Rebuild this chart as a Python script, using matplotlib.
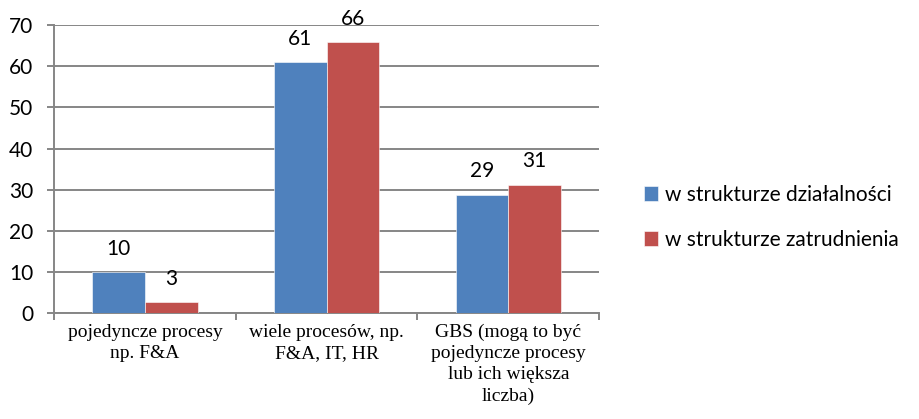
import matplotlib
matplotlib.use("Agg")
import matplotlib.pyplot as plt
import numpy as np

# Data
categories = [
    "pojedyncze procesy\nnp. F&A",
    "wiele procesów, np.\nF&A, IT, HR",
    "GBS (mogą to być\npojedyncze procesy\nlub ich większa\nliczba)",
]
series_names = ["w strukturze działalności", "w strukturze zatrudnienia"]
dzialalnosc = [9.9, 61.0, 28.8]
zatrudnienie = [2.6, 65.8, 31.1]
y_ticks = [0, 10, 20, 30, 40, 50, 60, 70]

colors = ["#4F81BD", "#C0504D"]
grid_color = "#868686"
sans = "Lato"
serif = "Liberation Serif"

fig = plt.figure(figsize=(9.19, 4.19), dpi=100)
ax = fig.add_axes([0.0588, 0.253, 0.5932, 0.687])

x = np.arange(len(categories))
width = 0.29
values = [dzialalnosc, zatrudnienie]
for i, (vals, name) in enumerate(zip(values, series_names)):
    pos = x + (i - 0.5) * width
    bars = ax.bar(pos, vals, width, color=colors[i], label=name, zorder=3,
                  edgecolor="white", linewidth=0.4)
    for b, v in zip(bars, vals):
        ax.annotate(f"{v:.0f}", (b.get_x() + b.get_width() / 2, v),
                    xytext=(0, 17), textcoords="offset points",
                    ha="center", va="center", fontsize=15, family=sans)

ax.set_xlim(-0.5, len(categories) - 0.5)
ax.set_ylim(0, 70)
ax.set_yticks(y_ticks)
ax.set_yticklabels([str(t) for t in y_ticks], fontsize=15, family=sans)
ax.yaxis.grid(True, color=grid_color, linewidth=1.4, zorder=0)
ax.set_axisbelow(True)

# category labels between boundary ticks
ax.set_xticks(np.arange(len(categories) + 1) - 0.5)
ax.set_xticklabels([])
ax.set_xticks(x, minor=True)
ax.set_xticklabels(categories, minor=True, fontsize=14, family=serif, va="top")
for lab in ax.get_xticklabels(minor=True):
    lab.set_linespacing(1.3)
ax.tick_params(axis="x", which="minor", length=0, pad=8)
ax.tick_params(axis="x", which="major", length=5, width=1.4, color=grid_color)
ax.tick_params(axis="y", length=5, width=1.4, color=grid_color, pad=10)

for side in ["top", "right"]:
    ax.spines[side].set_visible(False)
for side in ["left", "bottom"]:
    ax.spines[side].set_color(grid_color)
    ax.spines[side].set_linewidth(1.4)

fig.legend(loc="center left", bbox_to_anchor=(0.68, 0.482), frameon=False,
           prop={"family": sans, "size": 15}, handlelength=0.7,
           handleheight=0.7, handletextpad=0.3, labelspacing=1.2)

fig.savefig("out.png", dpi=100)
